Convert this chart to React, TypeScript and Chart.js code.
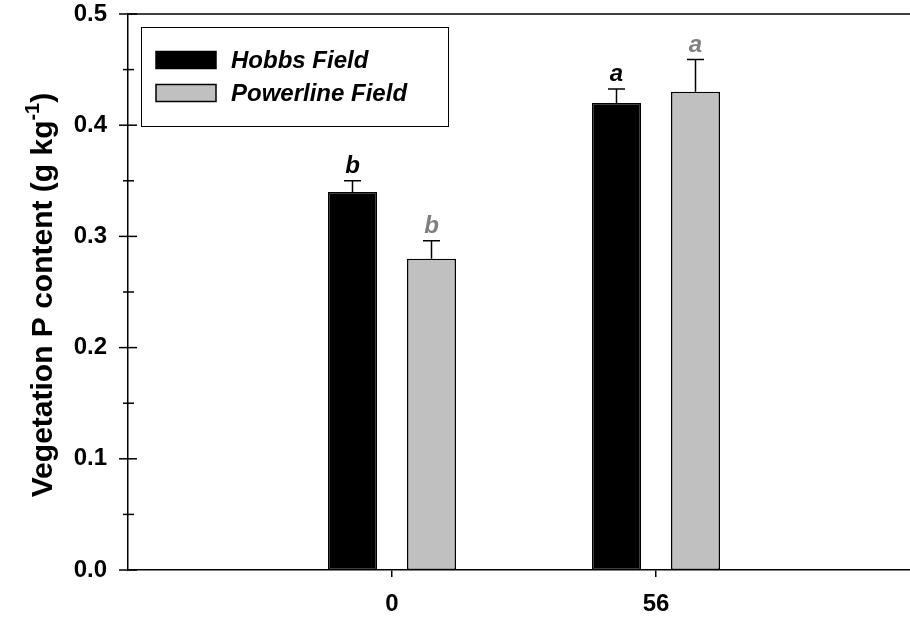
import React, { useEffect, useRef } from 'react';
import { Chart, registerables } from 'chart.js';

Chart.register(...registerables);

const categories = ['0', '56'];
const categoryPositions = [1, 2];
const seriesNames = ['Hobbs Field', 'Powerline Field'];
const hobbsValues = [0.34, 0.42];
const hobbsErrors = [0.01, 0.0125];
const hobbsLetters = ['b', 'a'];
const powerlineValues = [0.28, 0.43];
const powerlineErrors = [0.016, 0.029];
const powerlineLetters = ['b', 'a'];
const yMajorTicks = [0, 0.1, 0.2, 0.3, 0.4, 0.5];
const yMinorTicks = [0.05, 0.15, 0.25, 0.35, 0.45];
const yTitle = 'Vegetation P content (g kg';
const yTitleSup = '-1';

const FONT = '"Liberation Sans", Arial, sans-serif';
const seriesColors = ['#000000', '#c0c0c0'];
const letterColors = ['#000000', '#808080'];
const errors = [hobbsErrors, powerlineErrors];
const letters = [hobbsLetters, powerlineLetters];

const decorPlugin = {
  id: 'decor',
  afterDatasetsDraw(chart: any) {
    const { ctx, chartArea, scales } = chart;
    const ys = scales.y;
    ctx.save();
    ctx.strokeStyle = '#000';
    ctx.lineWidth = 1.5;
    // top frame line
    ctx.beginPath();
    ctx.moveTo(chartArea.left, chartArea.top);
    ctx.lineTo(chartArea.right, chartArea.top);
    ctx.stroke();
    // y ticks crossing the axis
    const x0 = chartArea.left;
    yMajorTicks.forEach((v) => {
      const y = ys.getPixelForValue(v);
      ctx.beginPath();
      ctx.moveTo(x0 - 9, y);
      ctx.lineTo(x0 + 9, y);
      ctx.stroke();
    });
    yMinorTicks.forEach((v) => {
      const y = ys.getPixelForValue(v);
      ctx.beginPath();
      ctx.moveTo(x0 - 5, y);
      ctx.lineTo(x0 + 6, y);
      ctx.stroke();
    });
    // error bars + letters
    chart.data.datasets.forEach((ds: any, di: number) => {
      const meta = chart.getDatasetMeta(di);
      meta.data.forEach((el: any, i: number) => {
        const val = ds.data[i].y;
        const yTop = ys.getPixelForValue(val + errors[di][i]);
        ctx.strokeStyle = '#000';
        ctx.lineWidth = 1.5;
        ctx.beginPath();
        ctx.moveTo(el.x, el.y);
        ctx.lineTo(el.x, yTop);
        ctx.moveTo(el.x - 8.5, yTop);
        ctx.lineTo(el.x + 8.5, yTop);
        ctx.stroke();
        ctx.fillStyle = letterColors[di];
        ctx.font = `italic bold 24px ${FONT}`;
        ctx.textAlign = 'center';
        ctx.textBaseline = 'alphabetic';
        ctx.fillText(letters[di][i], el.x, yTop - 8);
      });
    });
    // legend
    ctx.lineWidth = 1;
    ctx.strokeStyle = '#000';
    ctx.strokeRect(141.5, 27.5, 307, 99);
    const rows = [60, 93];
    seriesNames.forEach((name, i) => {
      ctx.fillStyle = seriesColors[i];
      ctx.fillRect(156, rows[i] - 8.5, 60, 17);
      ctx.lineWidth = 1.5;
      ctx.strokeRect(156, rows[i] - 8.5, 60, 17);
      ctx.fillStyle = '#000';
      ctx.font = `italic bold 24px ${FONT}`;
      ctx.textAlign = 'left';
      ctx.textBaseline = 'middle';
      ctx.fillText(name, 231, rows[i] + 1);
    });
    // y title
    ctx.save();
    ctx.translate(52, 295);
    ctx.rotate(-Math.PI / 2);
    const mainFont = `bold 30px ${FONT}`;
    const supFont = `bold 20px ${FONT}`;
    ctx.font = mainFont;
    const w1 = ctx.measureText(yTitle).width;
    ctx.font = supFont;
    const w2 = ctx.measureText(yTitleSup).width;
    ctx.font = mainFont;
    const w3 = ctx.measureText(')').width;
    const total = w1 + w2 + w3;
    let x = -total / 2;
    ctx.fillStyle = '#000';
    ctx.textAlign = 'left';
    ctx.textBaseline = 'alphabetic';
    ctx.fillText(yTitle, x, 0);
    x += w1;
    ctx.font = supFont;
    ctx.fillText(yTitleSup, x, -13);
    x += w2;
    ctx.font = mainFont;
    ctx.fillText(')', x, 0);
    ctx.restore();
    ctx.restore();
  },
};

export default function App() {
  const ref = useRef<HTMLCanvasElement>(null);
  useEffect(() => {
    document.body.style.margin = '0';
    const canvas = ref.current!;
    const chart = new Chart(canvas, {
      type: 'bar',
      data: {
        datasets: [
          {
            label: seriesNames[0],
            data: categoryPositions.map((x, i) => ({ x, y: hobbsValues[i] })),
            backgroundColor: seriesColors[0],
            borderColor: '#000',
            borderWidth: 1.5,
            borderSkipped: false,
          },
          {
            label: seriesNames[1],
            data: categoryPositions.map((x, i) => ({ x, y: powerlineValues[i] })),
            backgroundColor: seriesColors[1],
            borderColor: '#000',
            borderWidth: 1.5,
            borderSkipped: false,
          },
        ],
      },
      options: {
        animation: false,
        responsive: false,
        events: [],
        categoryPercentage: 0.5985,
        barPercentage: 0.62,
        layout: { padding: { top: 14, right: 0, left: 0, bottom: 0 } },
        plugins: { legend: { display: false }, tooltip: { enabled: false } },
        scales: {
          x: {
            type: 'linear',
            offset: false,
            min: 0,
            max: 782 / 264,
            afterBuildTicks: (scale: any) => {
              scale.ticks = categoryPositions.map((v) => ({ value: v }));
            },
            afterFit: (scale: any) => {
              scale.height = 51;
              scale.paddingLeft = 0;
              scale.paddingRight = 0;
            },
            grid: { offset: false, drawOnChartArea: false, drawTicks: true, tickLength: 7, color: '#000', lineWidth: 1.5 },
            border: { display: true, color: '#000', width: 1.5 },
            ticks: {
              padding: 13,
              color: '#000',
              maxRotation: 0,
              autoSkip: false,
              font: { family: FONT, size: 24, weight: 'bold' },
              callback: (v: any) => {
                const idx = categoryPositions.indexOf(Number(v));
                return idx >= 0 ? categories[idx] : '';
              },
            },
          },
          y: {
            min: 0,
            max: 0.5,
            afterFit: (scale: any) => {
              scale.width = 128;
              scale.paddingTop = 0;
              scale.paddingBottom = 0;
            },
            afterBuildTicks: (scale: any) => {
              scale.ticks = yMajorTicks.map((v) => ({ value: v }));
            },
            grid: { display: false, drawTicks: false },
            border: { display: true, color: '#000', width: 1.5 },
            ticks: {
              padding: 21,
              color: '#000',
              font: { family: FONT, size: 24, weight: 'bold' },
              callback: (v: any) => Number(v).toFixed(1),
            },
          },
        },
      },
      plugins: [decorPlugin],
    } as any);
    return () => chart.destroy();
  }, []);
  return (
    <div style={{ width: 910, height: 621 }}>
      <canvas ref={ref} width={910} height={621} />
    </div>
  );
}
